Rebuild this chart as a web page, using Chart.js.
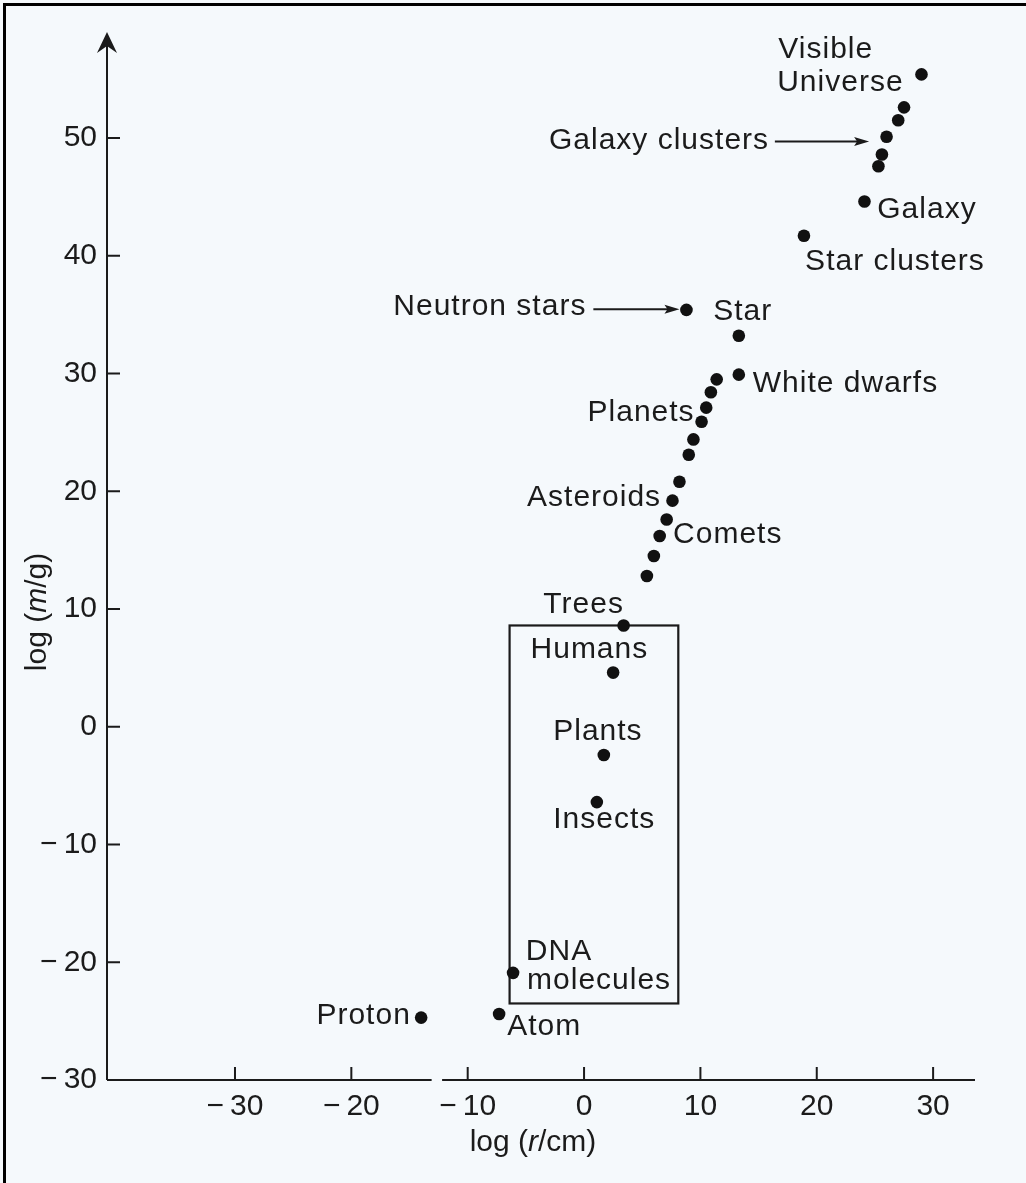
<!DOCTYPE html>
<html>
<head>
<meta charset="utf-8">
<title>log m vs log r</title>
<script src="https://cdn.jsdelivr.net/npm/chart.js@4.4.1/dist/chart.umd.min.js"></script>
<style>
html, body { margin: 0; padding: 0; background: #f5f9fc; }
#frame { position: absolute; left: 3px; top: 3px; width: 1023px; height: 1180px;
  border-top: 3px solid #000; border-left: 3px solid #000; box-sizing: border-box; }
#plot { position: absolute; left: 0; top: 0; }
</style>
</head>
<body>
<div id="frame"></div>
<canvas id="plot" width="1026" height="1183"></canvas>
<script>

// log(r/cm) and log(m/g) of every dot
const logR = [29.0, 27.5, 27.0, 26.0, 25.6, 25.3, 24.1, 18.9, 8.8, 13.3,
  13.3, 11.4, 10.9, 10.5, 10.1, 9.4, 9.0, 8.2, 7.6, 7.1,
  6.5, 6.0, 5.4, 3.4, 2.5, 1.7, 1.1, -6.1, -7.3, -14.0]
const logM = [55.4, 52.6, 51.5, 50.1, 48.6, 47.6, 44.6, 41.7, 35.4, 33.2,
  29.9, 29.5, 28.4, 27.1, 25.9, 24.4, 23.1, 20.8, 19.2, 17.6,
  16.2, 14.5, 12.8, 8.6, 4.6, -2.4, -6.4, -20.9, -24.4, -24.7]

const xTicks = [-30, -20, -10, 0, 10, 20, 30]
const yTicks = [-30, -20, -10, 0, 10, 20, 30, 40, 50]

// text notes: text, x, y (data units), alignment
const notes = [
  ["Visible", 16.7, 57.5, "left"],
  ["Universe", 16.6, 54.7, "left"],
  ["Galaxy clusters", 15.9, 49.8, "right"],
  ["Galaxy", 25.2, 43.9, "left"],
  ["Star clusters", 19.0, 39.5, "left"],
  ["Neutron stars", 0.2, 35.7, "right"],
  ["Star", 11.1, 35.25, "left"],
  ["White dwarfs", 14.5, 29.1, "left"],
  ["Planets", 0.3, 26.7, "left"],
  ["Asteroids", -4.9, 19.45, "left"],
  ["Comets", 7.65, 16.3, "left"],
  ["Trees", -3.5, 10.4, "left"],
  ["Humans", -4.6, 6.5, "left"],
  ["Plants", -2.65, -0.4, "left"],
  ["Insects", -2.65, -7.9, "left"],
  ["DNA", -5.0, -19.1, "left"],
  ["molecules", -4.9, -21.6, "left"],
  ["Proton", -23.0, -24.5, "left"],
  ["Atom", -6.6, -25.5, "left"]
]

// arrows: from x, to x, at y
const arrows = [[16.4, 24.5, 49.7], [0.8, 8.2, 35.45]]

// the box round the living things
const boxX = [-6.4, 8.1]
const boxY = [-23.5, 8.6]

// break in the r axis
const xBreak = [-13.1, -12.2]

const FONT = "'Liberation Sans', Arial, Helvetica, sans-serif"
const INK = "#1b1b1b"

function fmt(v){
  return v < 0 ? "\u2212\u2009" + Math.abs(v) : String(v)
}

function drawMixed(ctx, parts, x, y){
  let total = 0
  const widths = parts.map(p => {
    ctx.font = (p[1] ? "italic " : "") + "30px " + FONT
    const w = ctx.measureText(p[0]).width
    total += w
    return w
  })
  let cx = x - total / 2
  parts.forEach((p, i) => {
    ctx.font = (p[1] ? "italic " : "") + "30px " + FONT
    ctx.fillText(p[0], cx, y)
    cx += widths[i]
  })
}

const sketch = {
  id: "sketch",
  beforeDatasetsDraw(chart){
    const ctx = chart.ctx
    const xs = chart.scales.x, ys = chart.scales.y
    const x0 = xs.getPixelForValue(xs.min)
    const x1 = xs.getPixelForValue(xs.max)
    const yb = ys.getPixelForValue(ys.min)
    const yt = ys.getPixelForValue(ys.max)
    ctx.save()
    ctx.strokeStyle = INK
    ctx.fillStyle = INK
    ctx.lineWidth = 2
    // r axis with its break
    ctx.beginPath()
    ctx.moveTo(x0, yb)
    ctx.lineTo(xs.getPixelForValue(xBreak[0]), yb)
    ctx.moveTo(xs.getPixelForValue(xBreak[1]), yb)
    ctx.lineTo(x1, yb)
    // m axis
    ctx.moveTo(x0, yb)
    ctx.lineTo(x0, yt + 12)
    ctx.stroke()
    // arrowhead on m axis
    ctx.beginPath()
    ctx.moveTo(x0, yt)
    ctx.lineTo(x0 + 10, yt + 21)
    ctx.lineTo(x0, yt + 14)
    ctx.lineTo(x0 - 10, yt + 21)
    ctx.closePath()
    ctx.fill()
    // inward ticks
    ctx.beginPath()
    xTicks.forEach(v => {
      const p = xs.getPixelForValue(v)
      ctx.moveTo(p, yb)
      ctx.lineTo(p, yb - 13)
    })
    yTicks.forEach(v => {
      if (v === ys.min) return
      const p = ys.getPixelForValue(v)
      ctx.moveTo(x0, p)
      ctx.lineTo(x0 + 13, p)
    })
    ctx.stroke()
    // box
    ctx.lineWidth = 2.2
    ctx.strokeRect(
      xs.getPixelForValue(boxX[0]), ys.getPixelForValue(boxY[1]),
      xs.getPixelForValue(boxX[1]) - xs.getPixelForValue(boxX[0]),
      ys.getPixelForValue(boxY[0]) - ys.getPixelForValue(boxY[1]))
    // arrows
    ctx.lineWidth = 2
    arrows.forEach(a => {
      const p0 = xs.getPixelForValue(a[0])
      const p1 = xs.getPixelForValue(a[1])
      const py = ys.getPixelForValue(a[2])
      ctx.beginPath()
      ctx.moveTo(p0, py)
      ctx.lineTo(p1 - 8, py)
      ctx.stroke()
      ctx.beginPath()
      ctx.moveTo(p1, py)
      ctx.lineTo(p1 - 15, py - 4.5)
      ctx.lineTo(p1 - 12, py)
      ctx.lineTo(p1 - 15, py + 4.5)
      ctx.closePath()
      ctx.fill()
    })
    ctx.restore()
  },
  afterDatasetsDraw(chart){
    const ctx = chart.ctx
    const xs = chart.scales.x, ys = chart.scales.y
    ctx.save()
    ctx.fillStyle = INK
    ctx.font = "30px " + FONT
    ctx.textBaseline = "middle"
    ctx.letterSpacing = "1px"
    notes.forEach(n => {
      ctx.textAlign = n[3]
      ctx.fillText(n[0], xs.getPixelForValue(n[1]), ys.getPixelForValue(n[2]))
    })
    // axis titles
    ctx.letterSpacing = "0px"
    ctx.textAlign = "left"
    drawMixed(ctx, [["log (", false], ["r", true], ["/cm)", false]], 533, 1143)
    ctx.translate(38, 612)
    ctx.rotate(-Math.PI / 2)
    drawMixed(ctx, [["log (", false], ["m", true], ["/g)", false]], 0, 0)
    ctx.restore()
  }
}

const points = logR.map((r, i) => ({ x: r, y: logM[i] }))

new Chart(document.getElementById("plot"), {
  type: "scatter",
  data: {
    datasets: [{
      data: points,
      backgroundColor: "#111",
      borderWidth: 0,
      pointRadius: 6.3,
      pointHoverRadius: 6.3
    }]
  },
  options: {
    responsive: false,
    animation: false,
    events: [],
    layout: { padding: { top: 32, right: 51, left: 0, bottom: 0 } },
    plugins: { legend: { display: false }, tooltip: { enabled: false } },
    scales: {
      x: {
        type: "linear",
        min: -41,
        max: 33.6,
        grid: { display: false, drawTicks: false },
        border: { display: false },
        afterBuildTicks: s => { s.ticks = xTicks.map(v => ({ value: v })) },
        afterFit: s => { s.height = 1183 - 1080 },
        ticks: {
          autoSkip: false,
          maxRotation: 0,
          padding: 9,
          color: INK,
          font: { family: FONT, size: 30 },
          callback: v => fmt(v)
        }
      },
      y: {
        type: "linear",
        min: -30,
        max: 59,
        grid: { display: false, drawTicks: false },
        border: { display: false },
        afterBuildTicks: s => { s.ticks = yTicks.map(v => ({ value: v })) },
        afterFit: s => { s.width = 107 },
        ticks: {
          autoSkip: false,
          padding: 10,
          color: INK,
          font: { family: FONT, size: 30 },
          callback: v => fmt(v)
        }
      }
    }
  },
  plugins: [sketch]
})
</script>
</body>
</html>
